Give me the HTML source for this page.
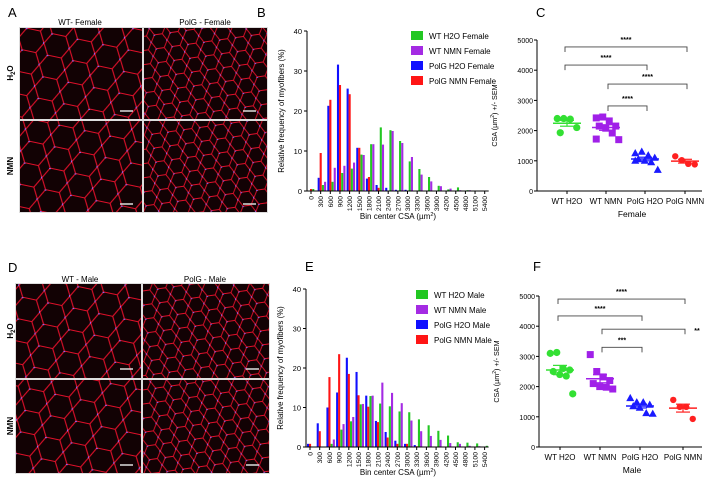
<!DOCTYPE html>
<html><head><meta charset="utf-8"><style>
body{margin:0;background:#fff;}
svg{display:block;font-family:"Liberation Sans",sans-serif;}
</style></head><body>
<svg id="fig" width="713" height="485" viewBox="0 0 713 485" xmlns="http://www.w3.org/2000/svg">
<defs>
<pattern id="meshL" width="26" height="22" patternUnits="userSpaceOnUse" patternTransform="rotate(12)">
<rect width="26" height="22" fill="#120204"/>
<path d="M0 11 L6 0 L20 0 L26 11 L20 22 L6 22 Z" fill="none" stroke="#e0102a" stroke-width="1.1"/>
<circle cx="6" cy="0" r="1.1" fill="#8a6cff"/><circle cx="26" cy="11" r="1.1" fill="#8a6cff"/>
</pattern>
<pattern id="meshS" width="16" height="14" patternUnits="userSpaceOnUse" patternTransform="rotate(-8)">
<rect width="16" height="14" fill="#120204"/>
<path d="M0 7 L4 0 L12 0 L16 7 L12 14 L4 14 Z" fill="none" stroke="#e0102a" stroke-width="0.9"/>
<circle cx="4" cy="0" r="1" fill="#8a6cff"/><circle cx="16" cy="7" r="1" fill="#8a6cff"/>
</pattern>
</defs>

<g>
<text x="8" y="17" font-size="13">A</text>
<text x="80" y="25" font-size="8" text-anchor="middle">WT- Female</text>
<text x="205" y="25" font-size="8" text-anchor="middle">PolG - Female</text>
<text transform="translate(13,73) rotate(-90)" font-size="8" text-anchor="middle" font-weight="bold">H<tspan font-size="6" dy="2">2</tspan><tspan dy="-2">O</tspan></text>
<text transform="translate(13,166) rotate(-90)" font-size="8" text-anchor="middle" font-weight="bold">NMN</text>
<rect x="19" y="27" width="249" height="186" fill="#ddd"/>
<rect x="20" y="28" width="122" height="91" fill="url(#meshL)"/>
<rect x="144" y="28" width="123" height="91" fill="url(#meshS)"/>
<rect x="20" y="121" width="122" height="91" fill="url(#meshL)"/>
<rect x="144" y="121" width="123" height="91" fill="url(#meshS)"/>
<g stroke="#ddd" stroke-width="1.5"><line x1="120" y1="111" x2="133" y2="111"/><line x1="243" y1="111" x2="256" y2="111"/><line x1="120" y1="204" x2="133" y2="204"/><line x1="243" y1="204" x2="256" y2="204"/></g>
</g>

<g>
<text x="8" y="272" font-size="13">D</text>
<text x="80" y="282" font-size="8" text-anchor="middle">WT - Male</text>
<text x="205" y="282" font-size="8" text-anchor="middle">PolG - Male</text>
<text transform="translate(13,331) rotate(-90)" font-size="8" text-anchor="middle" font-weight="bold">H<tspan font-size="6" dy="2">2</tspan><tspan dy="-2">O</tspan></text>
<text transform="translate(13,426) rotate(-90)" font-size="8" text-anchor="middle" font-weight="bold">NMN</text>
<rect x="15" y="283" width="255" height="191" fill="#ddd"/>
<rect x="16" y="284" width="125" height="94" fill="url(#meshL)"/>
<rect x="143" y="284" width="126" height="94" fill="url(#meshS)"/>
<rect x="16" y="380" width="125" height="93" fill="url(#meshL)"/>
<rect x="143" y="380" width="126" height="93" fill="url(#meshS)"/>
<g stroke="#ddd" stroke-width="1.5"><line x1="120" y1="369" x2="133" y2="369"/><line x1="246" y1="369" x2="259" y2="369"/><line x1="120" y1="465" x2="133" y2="465"/><line x1="246" y1="465" x2="259" y2="465"/></g>
</g>

<g id="charts"></g>
</svg>
<script>
// ---------- data ----------
const binLabels = ["0","300","600","900","1200","1500","1800","2100","2400","2700","3000","3300","3600","3900","4200","4500","4800","5100","5400"];
const histTicks = [0,10,20,30,40];
const femaleWtH2o  = [0.5,1.5,2.3,4.5,5.6,9.1,11.7,15.9,15.2,12.5,7.4,5.5,3.5,1.3,0.4,0.9,0.2,0,0];
const femaleWtNmn  = [0,2.3,5.8,6.3,7.1,9.0,11.7,11.6,15.0,12.0,8.5,4.1,2.4,1.2,0.6,0.2,0.2,0,0];
const femalePolgH2o= [0,3.3,21.3,31.6,25.6,10.8,3.1,1.5,0.8,0.3,0.3,0,0,0,0,0,0,0,0];
const femalePolgNmn= [0.5,9.5,22.8,26.5,24.2,10.8,3.5,0.8,0,0,0,0,0,0,0,0,0,0,0];
const maleWtH2o    = [0,0,0.8,4.4,6.5,10.8,12.9,11.0,10.3,9.0,8.8,7.0,5.5,4.1,2.9,1.2,1.1,0.9,0.3];
const maleWtNmn    = [0,0,1.9,5.8,7.6,10.9,13.0,16.3,13.7,11.1,6.7,4.0,2.8,1.8,1.0,0.8,0.3,0.2,0];
const malePolgH2o  = [0.8,6.0,10.0,13.8,22.6,19.0,13.0,6.6,3.8,1.6,0.8,0.5,0,0,0,0,0,0,0];
const malePolgNmn  = [0.8,4.0,17.7,23.5,18.5,13.1,10.2,6.3,2.4,0.8,0.8,0.2,0,0,0,0,0,0,0];

const groups = ["WT H2O","WT NMN","PolG H2O","PolG NMN"];
const csaTicks = [0,1000,2000,3000,4000,5000];
const femaleCsaWtH2o   = [2400,2400,2380,2100,1930];
const femaleCsaWtNmn   = [2420,2450,2320,2150,2150,2080,1920,1700,1720];
const femaleCsaPolgH2o = [1250,1300,1180,1100,1050,1000,950,700,1000];
const femaleCsaPolgNmn = [1150,1020,900,880];
const maleCsaWtH2o   = [3100,3130,2600,2550,2500,2400,2350,1760];
const maleCsaWtNmn   = [3060,2500,2320,2200,2100,2000,1980,1920];
const maleCsaPolgH2o = [1620,1480,1480,1400,1350,1300,1120,1100];
const maleCsaPolgNmn = [1560,1330,1330,930];
const femaleBrackets = [[0,3,4770,"****"],[0,2,4170,"****"],[1,3,3540,"****"],[1,2,2815,"****"]];
const maleBrackets   = [[0,3,4900,"****"],[0,2,4340,"****"],[1,3,3900,"**"],[1,2,3300,"***"]];

// ---------- drawing ----------
const NS="http://www.w3.org/2000/svg";
const root=document.getElementById('charts');
function mk(tag,attrs,parent){const e=document.createElementNS(NS,tag);for(const k in attrs)e.setAttribute(k,attrs[k]);(parent||root).appendChild(e);return e;}
const COL={g:"#22c722",p:"#a42be3",b:"#1010ff",r:"#ff1515"};
const SC={g:"#33e033",p:"#a020e8",b:"#1a1aff",r:"#ff2020"};

function hist(cfg){
  const g=mk('g',{});
  
  
  const x=i=>cfg.x0+i*cfg.dx;
  const y=v=>cfg.yb-(v/40)*(cfg.yb-cfg.yt);
  const lbl=mk('text',{x:cfg.lx,y:cfg.ly,'font-size':13},g);lbl.textContent=cfg.label;
  
  const series=[[cfg.b,COL.b,-3],[cfg.r,COL.r,-1],[cfg.g,COL.g,1.2],[cfg.p,COL.p,3.4]];
  series.forEach(([arr,c,off])=>{
    arr.forEach((v,i)=>{ if(v<=0)return;
      const r=mk('rect',{x:x(i)+off,y:y(v),width:2.1,height:cfg.yb-y(v),fill:c},g);
      
      
    });
  });
  mk('line',{x1:cfg.ax,y1:cfg.yt,x2:cfg.ax,y2:cfg.yb,stroke:'#000','stroke-width':1},g);
  mk('line',{x1:cfg.ax,y1:cfg.yb,x2:x(18)+4,y2:cfg.yb,stroke:'#000','stroke-width':1},g);
  histTicks.forEach(t=>{mk('line',{x1:cfg.ax-3,y1:y(t),x2:cfg.ax,y2:y(t),stroke:'#000'},g);
    const tt=mk('text',{x:cfg.ax-5,y:y(t)+3,'font-size':7.5,'text-anchor':'end'},g);tt.textContent=t;
    });
  binLabels.forEach((b,i)=>{mk('line',{x1:x(i),y1:cfg.yb,x2:x(i),y2:cfg.yb+3,stroke:'#000'},g);
    const tt=mk('text',{transform:`translate(${x(i)+2.5},${cfg.yb+5}) rotate(-90)`,'font-size':6.8,'text-anchor':'end'},g);tt.textContent=b;
    });
  const yl=mk('text',{transform:`translate(${cfg.ax-23},${(cfg.yt+cfg.yb)/2}) rotate(-90)`,'font-size':7.8,'text-anchor':'middle'},g);
  yl.textContent="Relative frequency of myofibers (%)";
  
  const xl=mk('text',{x:398,y:cfg.yb+28,'font-size':8,'text-anchor':'middle'},g);
  xl.innerHTML='Bin center CSA (µm<tspan font-size="5.5" dy="-3">2</tspan><tspan dy="3">)</tspan>';
  
  cfg.legend.forEach(([t,c],i)=>{
    const le=mk('g',{},g);
    
    
    mk('rect',{x:cfg.legx,y:cfg.legy+i*15-5,width:12,height:9,fill:c},le);
    const tx=mk('text',{x:cfg.legx+18,y:cfg.legy+i*15+3,'font-size':8},le);tx.textContent=t;
  });
}

function marker(g,shape,cx,cy,c){
  let e;
  if(shape==='circle')e=mk('circle',{cx,cy,r:3.6,fill:c},g);
  else if(shape==='square')e=mk('rect',{x:cx-3.5,y:cy-3.5,width:7,height:7,fill:c},g);
  else if(shape==='tri')e=mk('path',{d:`M${cx} ${cy-4.2} L${cx+4} ${cy+3} L${cx-4} ${cy+3} Z`,fill:c},g);
  else e=mk('circle',{cx,cy,r:3.2,fill:c},g);
  
  
}

function scatter(cfg){
  const g=mk('g',{});
  
  
  const y=v=>cfg.yb-(v/5000)*(cfg.yb-cfg.yt);
  const lbl=mk('text',{x:cfg.lx,y:cfg.ly,'font-size':13},g);lbl.textContent=cfg.label;
  
  mk('line',{x1:cfg.ax,y1:cfg.yt,x2:cfg.ax,y2:cfg.yb,stroke:'#000'},g);
  mk('line',{x1:cfg.ax,y1:cfg.yb,x2:cfg.xe,y2:cfg.yb,stroke:'#000'},g);
  csaTicks.forEach(t=>{mk('line',{x1:cfg.ax-3,y1:y(t),x2:cfg.ax,y2:y(t),stroke:'#000'},g);
    const tt=mk('text',{x:cfg.ax-4,y:y(t)+3,'font-size':7,'text-anchor':'end'},g);tt.textContent=t;
    });
  groups.forEach((n,i)=>{const cx=cfg.cx[i];
    mk('line',{x1:cx,y1:cfg.yb,x2:cx,y2:cfg.yb+3,stroke:'#000'},g);
    const tt=mk('text',{x:cx,y:cfg.yb+13,'font-size':8,'text-anchor':'middle'},g);tt.textContent=n;
    });
  const xl=mk('text',{x:632,y:cfg.yb+26,'font-size':8.5,'text-anchor':'middle'},g);xl.textContent=cfg.sex;
  
  const yl=mk('text',{transform:`translate(${cfg.ax-40},${(cfg.yt+cfg.yb)/2}) rotate(-90)`,'font-size':7.2,'text-anchor':'middle'},g);
  yl.innerHTML='CSA (µm<tspan font-size="5" dy="-3">2</tspan><tspan dy="3">)  +/- SEM</tspan>';
  
  const shapes=['circle','square','tri','diamond'];const cols=[SC.g,SC.p,SC.b,SC.r];
  cfg.data.forEach((arr,i)=>{
    const cx=cfg.cx[i];const n=arr.length;
    const mean=arr.reduce((a,b)=>a+b,0)/n;
    const sd=Math.sqrt(arr.reduce((a,b)=>a+(b-mean)*(b-mean),0)/(n-1));const sem=sd/Math.sqrt(n);
    arr.forEach((v,j)=>{const off=((j%4)-1.5)*6.5+((j>>2)%2?3:0);marker(g,shapes[i],cx+off,y(v),cols[i]);});
    const ml=mk('line',{x1:cx-14,y1:y(mean),x2:cx+14,y2:y(mean),stroke:cols[i],'stroke-width':1.5},g);
    
    mk('line',{x1:cx,y1:y(mean+sem),x2:cx,y2:y(mean-sem),stroke:cols[i],'stroke-width':1.2},g);
    mk('line',{x1:cx-7,y1:y(mean+sem),x2:cx+7,y2:y(mean+sem),stroke:cols[i],'stroke-width':1.2},g);
    mk('line',{x1:cx-7,y1:y(mean-sem),x2:cx+7,y2:y(mean-sem),stroke:cols[i],'stroke-width':1.2},g);
  });
  cfg.br.forEach(([a,b,v,s])=>{
    const bg=mk('g',{},g);
    
    
    const x1=cfg.cx[a]+(a===1?2:-2),x2=cfg.cx[b]+2,yy=y(v);
    mk('path',{d:`M${x1} ${yy+5} L${x1} ${yy} L${x2} ${yy} L${x2} ${yy+5}`,fill:'none',stroke:'#444','stroke-width':0.9},bg);
    const xt=(s==="**")?x2+12:(x1+x2)/2;const yt=(s==="**")?yy+4:yy-5;
    const t=mk('text',{x:xt,y:yt,'font-size':7,'text-anchor':'middle','font-weight':'bold'},bg);t.textContent=s;
  });
}

hist({name:'histogram-female',label:'B',lx:257,ly:17,x0:311,dx:9.65,ax:307,yt:31,yb:191,
  g:femaleWtH2o,p:femaleWtNmn,b:femalePolgH2o,r:femalePolgNmn,legx:411,legy:36,
  legend:[["WT H2O Female",COL.g],["WT NMN Female",COL.p],["PolG H2O Female",COL.b],["PolG NMN Female",COL.r]]});
hist({name:'histogram-male',label:'E',lx:305,ly:271,x0:310,dx:9.7,ax:306,yt:289,yb:447,
  g:maleWtH2o,p:maleWtNmn,b:malePolgH2o,r:malePolgNmn,legx:416,legy:295,
  legend:[["WT H2O Male",COL.g],["WT NMN Male",COL.p],["PolG H2O Male",COL.b],["PolG NMN Male",COL.r]]});
scatter({name:'csa-scatter-female',label:'C',lx:536,ly:17,ax:537,xe:702,yt:40,yb:191,cx:[567,606,645,685],sex:'Female',
  data:[femaleCsaWtH2o,femaleCsaWtNmn,femaleCsaPolgH2o,femaleCsaPolgNmn],br:femaleBrackets});
scatter({name:'csa-scatter-male',label:'F',lx:533,ly:271,ax:539,xe:702,yt:296,yb:447,cx:[560,600,640,683],sex:'Male',
  data:[maleCsaWtH2o,maleCsaWtNmn,maleCsaPolgH2o,maleCsaPolgNmn],br:maleBrackets});
</script>
</body></html>
